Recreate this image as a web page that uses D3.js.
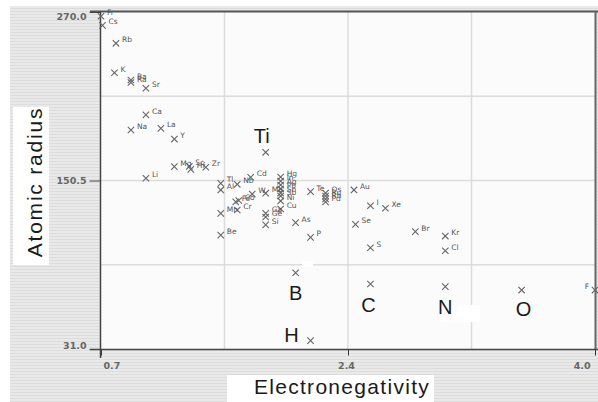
<!DOCTYPE html>
<html><head><meta charset="utf-8">
<script src="https://cdn.jsdelivr.net/npm/d3@7"></script>
<style>body{margin:0;background:#fff}svg{display:block}</style>
</head><body>
<script>
const elements = ["Fr","Cs","Rb","K","Ba","Ra","Sr","Ca","Na","La","Y","Mg","Sc","Hf","Zr","Li","Ti","Tl","Al","Nb","Cd","Mn","Cr","Be","Fe","Co","W","Mo","Hg","In","Ag","Pb","Sn","Sb","Ni","Cu","Ga","Ge","Si","As","P","Te","Os","Ru","Rh","Pd","Au","I","Xe","Se","Br","Kr","S","Cl","B","C","N","O","F","H"];
const electronegativity = [0.70,0.71,0.80,0.79,0.90,0.90,1.00,1.00,0.90,1.10,1.19,1.19,1.29,1.30,1.40,1.00,1.80,1.50,1.50,1.61,1.70,1.50,1.61,1.50,1.60,1.62,1.71,1.80,1.90,1.90,1.90,1.90,1.90,1.90,1.90,1.90,1.80,1.80,1.80,2.00,2.10,2.10,2.20,2.20,2.20,2.20,2.39,2.50,2.60,2.40,2.80,3.00,2.50,3.00,2.00,2.50,3.00,3.51,4.00,2.10];
const atomicRadius = [267.0,260.5,247.8,226.9,221.8,220.0,215.9,197.0,186.3,187.5,179.9,160.3,160.5,158.4,159.9,152.1,170.5,148.5,143.8,147.8,152.8,127.2,129.6,111.8,135.3,136.3,140.9,141.5,153.0,150.1,147.3,144.5,141.6,139.5,136.0,130.3,127.2,124.6,119.0,120.6,110.2,142.6,141.6,139.5,137.4,135.3,143.8,132.6,130.8,119.4,114.2,111.1,102.8,100.7,85.1,77.1,75.2,72.8,72.8,36.9];
const highlighted = ["Ti","B","C","N","O","H"];
const xTicks = [0.7, 2.35, 4.0];
const xTickLabels = ["0.7", "2.4", "4.0"];
const yTicks = [31.0, 150.5, 270.0];
const xTitle = "Electronegativity";
const yTitle = "Atomic radius";

const W = 598, H = 402;
const svg = d3.select("body").append("svg").attr("width", W).attr("height", H);
const defs = svg.append("defs");
const pat = defs.append("pattern").attr("id","stripes").attr("width",4).attr("height",3).attr("patternUnits","userSpaceOnUse");
pat.append("rect").attr("width",4).attr("height",3).attr("fill","#e9e9e9");
pat.append("rect").attr("y",2).attr("width",4).attr("height",1).attr("fill","#dcdcdc");

svg.append("rect").attr("width",W).attr("height",H).attr("fill","#fff");
svg.append("rect").attr("x",10).attr("y",6).attr("width",W-10).attr("height",H-6).attr("fill","url(#stripes)");

const x = d3.scaleLinear().domain([0.7, 4.0]).range([101, 595]);
const y = d3.scaleLinear().domain([31, 270]).range([349, 12]);

// plot area
svg.append("rect").attr("x",101).attr("y",12).attr("width",494).attr("height",337).attr("fill","#fbfbfb");

// grid
const gx = d3.range(0,5).map(i => 0.7 + i*(4.0-0.7)/4);
const gy = d3.range(0,5).map(i => 31 + i*(270-31)/4);
svg.append("g").selectAll("line").data(gx.slice(1,4)).join("line")
  .attr("x1",d=>x(d)).attr("x2",d=>x(d)).attr("y1",12).attr("y2",349)
  .attr("stroke","#dcdcdc").attr("stroke-width",1.5);
svg.append("g").selectAll("line").data(gy.slice(1,4)).join("line")
  .attr("y1",d=>y(d)).attr("y2",d=>y(d)).attr("x1",101).attr("x2",595)
  .attr("stroke","#dcdcdc").attr("stroke-width",1.5);

// frame
svg.append("line").attr("x1",90).attr("x2",598).attr("y1",11.5).attr("y2",11.5).attr("stroke","#555").attr("stroke-width",2);
svg.append("line").attr("x1",595.5).attr("x2",595.5).attr("y1",11).attr("y2",349).attr("stroke","#666").attr("stroke-width",2);

// axes
const xAxis = svg.append("g").attr("transform","translate(0,349.5)")
  .call(d3.axisBottom(x).tickValues(xTicks).tickSize(6).tickSizeOuter(0).tickFormat((d,i)=>xTickLabels[i]));
xAxis.select(".domain").remove();
xAxis.selectAll(".tick line").attr("stroke","#333");
xAxis.selectAll(".tick text").attr("fill","#666").attr("font-family","DejaVu Sans, sans-serif")
  .attr("font-size","9.5px").attr("font-weight","bold").attr("dy","1.1em")
  .attr("text-anchor",(d,i)=> i===0 ? "start" : (i===xTicks.length-1 ? "end" : "middle"))
  .attr("dx",(d,i)=> i===0 ? 2 : (i===xTicks.length-1 ? -5 : -2));
svg.append("line").attr("x1",90).attr("x2",598).attr("y1",349.5).attr("y2",349.5).attr("stroke","#444").attr("stroke-width",1.5);

const yAxis = svg.append("g").attr("transform","translate(100.5,0)")
  .call(d3.axisLeft(y).tickValues(yTicks).tickSize(11).tickSizeOuter(0).tickFormat(d3.format(".1f")));
yAxis.select(".domain").remove();
yAxis.selectAll(".tick line").attr("stroke","#444");
yAxis.selectAll(".tick text").attr("fill","#666").attr("font-family","DejaVu Sans, sans-serif")
  .attr("font-size","9.5px").attr("font-weight","bold").attr("x",-14)
  .attr("dy",(d,i)=> i===0 ? "-0.1em" : (i===yTicks.length-1 ? "0.75em" : "0.35em"));
svg.append("line").attr("x1",100.5).attr("x2",100.5).attr("y1",11).attr("y2",358).attr("stroke","#444").attr("stroke-width",1.5);

// data
const data = elements.map((e,i)=>({name:e, en:electronegativity[i], r:atomicRadius[i]}));
const marks = svg.append("g");
const s = 3.2;
marks.selectAll("path").data(data).join("path")
  .attr("d", d => {const cx=x(d.en), cy=y(d.r); return `M${cx-s},${cy-s}L${cx+s},${cy+s}M${cx-s},${cy+s}L${cx+s},${cy-s}`;})
  .attr("stroke","#666").attr("stroke-width",1.1).attr("fill","none");

svg.append("g").selectAll("text").data(data.filter(d=>!highlighted.includes(d.name))).join("text")
  .attr("x", d => x(d.en) >= 580 ? x(d.en)-6 : x(d.en)+6)
  .attr("y", d => y(d.r)-1)
  .attr("text-anchor", d => x(d.en) >= 580 ? "end" : "start")
  .attr("font-family","DejaVu Sans, sans-serif").attr("font-size","7.5px").attr("fill","#555")
  .text(d=>d.name);

// white patches
const patches = [[302,261,11,6],[440,305,40,17]];
svg.append("g").selectAll("rect").data(patches).join("rect")
  .attr("x",d=>d[0]).attr("y",d=>d[1]).attr("width",d=>d[2]).attr("height",d=>d[3]).attr("fill","#fff");

// big annotation labels
const annoOffset = {Ti:[-4,-9], B:[0,27], C:[-2,28], N:[0,27], O:[2,26], H:[-19,1]};
svg.append("g").selectAll("text").data(data.filter(d=>highlighted.includes(d.name))).join("text")
  .attr("x", d => x(d.en)+annoOffset[d.name][0])
  .attr("y", d => y(d.r)+annoOffset[d.name][1])
  .attr("text-anchor","middle")
  .attr("font-family","Liberation Sans, Arial, sans-serif").attr("font-size","20px").attr("fill","#1a1a1a")
  .text(d=>d.name);

// axis titles with white boxes
svg.append("rect").attr("x",227).attr("y",375).attr("width",207).attr("height",27).attr("fill","#fff");
svg.append("text").attr("x",342).attr("y",394).attr("text-anchor","middle")
  .attr("font-family","Liberation Sans, Arial, sans-serif").attr("font-size","21px").attr("fill","#1a1a1a")
  .attr("letter-spacing","1.3px")
  .text(xTitle);
svg.append("rect").attr("x",13).attr("y",107).attr("width",36).attr("height",158).attr("fill","#fff");
svg.append("text").attr("transform","translate(42,182) rotate(-90)").attr("text-anchor","middle")
  .attr("font-family","Liberation Sans, Arial, sans-serif").attr("font-size","21px").attr("fill","#1a1a1a")
  .attr("letter-spacing","1.8px")
  .text(yTitle);
</script>
</body></html>
